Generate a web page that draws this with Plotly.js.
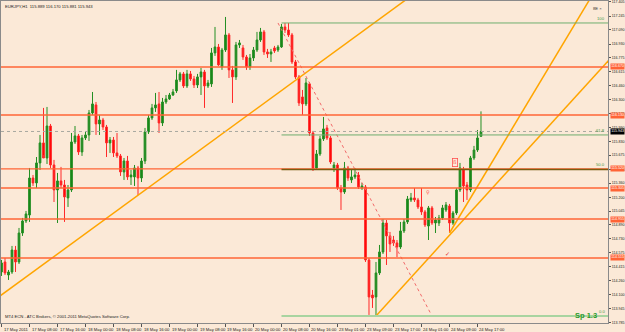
<!DOCTYPE html>
<html><head><meta charset="utf-8">
<script src="https://cdn.plot.ly/plotly-3.0.1.min.js"></script>
<style>html,body{margin:0;padding:0;background:#fbe9d7;}#chart{width:625px;height:332px;}</style>
</head><body><div id="chart"></div>
<script>
// ---- data (EURJPY, H1) ----
const openP = [114.357,114.470,114.323,114.357,114.605,114.470,114.797,114.933,115.000,115.418,
115.362,115.588,115.814,115.644,116.005,115.565,115.283,115.385,115.339,115.193,
115.283,115.825,115.893,115.712,115.870,115.904,116.152,116.243,116.028,116.073,
115.994,115.814,115.847,115.701,115.667,115.486,115.610,115.430,115.430,115.531,
115.418,115.610,115.938,116.096,116.209,116.254,116.039,116.276,116.310,116.355,
116.401,116.525,116.593,116.457,116.593,116.536,116.468,116.559,116.615,116.457,
116.480,116.830,116.897,116.672,116.863,117.033,116.638,116.559,116.920,116.886,
116.784,116.672,116.773,116.863,116.976,117.067,116.841,116.818,116.886,116.863,
116.897,117.123,117.089,117.033,116.728,116.559,116.333,116.254,116.480,115.926,
115.531,115.689,115.859,115.983,115.870,115.531,115.565,115.305,115.260,115.531,
115.396,115.430,115.452,115.305,115.317,114.493,114.097,114.075,114.346,114.583,
114.910,114.764,114.718,114.685,114.639,114.820,114.922,115.170,115.193,115.170,
115.091,115.035,114.876,115.080,114.910,114.910,114.967,115.057,115.102,114.910,
115.023,115.283,115.509,115.339,115.283,115.644,115.734,115.889];
const highP = [114.493,114.515,114.380,114.651,114.651,114.854,114.967,115.046,115.531,115.452,
115.655,115.904,116.209,116.220,116.028,115.622,115.475,115.543,115.396,115.339,
115.926,116.005,115.915,115.904,115.938,116.186,116.389,116.276,116.130,116.096,
116.017,115.881,115.881,115.926,115.689,115.644,115.667,115.509,115.565,115.554,
115.644,115.983,116.130,116.254,116.378,116.389,116.322,116.355,116.378,116.423,
116.638,116.615,116.615,116.638,116.626,116.570,116.593,116.660,116.638,116.525,
116.886,117.123,116.931,116.886,117.236,117.055,116.683,116.954,116.976,116.920,
116.807,116.818,116.897,117.067,117.112,117.089,116.875,116.875,116.909,116.920,
117.157,117.168,117.168,117.055,116.751,116.581,116.412,116.547,116.502,115.949,
115.734,115.893,116.107,116.017,115.893,115.599,115.588,115.339,115.599,115.554,
115.509,115.531,115.486,115.362,115.339,114.515,114.154,114.470,114.662,114.955,
114.944,114.809,114.764,114.718,114.922,114.955,115.215,115.249,115.305,115.193,
115.305,115.057,115.102,115.102,114.978,115.001,115.114,115.147,115.125,115.046,
115.305,115.588,115.543,115.373,115.667,115.780,115.960,116.170];
const lowP = [114.312,114.323,114.267,114.335,114.357,114.447,114.764,114.910,114.922,115.328,
115.305,115.509,115.678,115.576,115.531,115.147,114.910,115.305,114.922,115.091,
115.260,115.802,115.678,115.667,115.847,115.836,116.130,115.904,115.904,115.960,
115.655,115.701,115.655,115.644,115.441,115.396,115.396,115.339,115.328,115.226,
115.373,115.576,115.915,116.073,116.164,115.926,116.005,116.254,116.299,116.344,
116.378,116.502,116.434,116.434,116.514,116.434,116.434,116.355,116.209,116.434,
116.446,116.796,116.683,116.638,116.841,116.547,116.265,116.525,116.886,116.751,
116.638,116.638,116.739,116.841,116.954,116.807,116.773,116.728,116.830,116.841,
116.886,117.055,117.010,116.705,116.536,116.231,116.130,116.231,115.893,115.497,
115.509,115.667,115.836,115.847,115.576,115.486,115.283,115.057,115.238,115.385,
115.362,115.407,115.294,115.283,114.470,113.872,113.951,113.860,114.323,114.560,
114.436,114.583,114.651,114.526,114.617,114.797,114.899,115.147,115.147,115.068,
115.001,114.865,114.718,114.888,114.797,114.876,114.944,115.035,114.797,114.888,
115.001,115.260,115.147,115.170,115.260,115.622,115.712,115.881];
const closeP = [114.459,114.346,114.357,114.605,114.470,114.797,114.933,115.012,115.418,115.362,
115.588,115.814,115.644,116.005,115.565,115.283,115.385,115.339,115.204,115.283,
115.825,115.893,115.712,115.870,115.904,116.152,116.254,116.028,116.073,115.994,
115.814,115.847,115.701,115.667,115.486,115.610,115.430,115.452,115.531,115.418,
115.610,115.938,116.096,116.209,116.243,116.039,116.276,116.310,116.355,116.389,
116.525,116.593,116.457,116.593,116.536,116.468,116.559,116.615,116.457,116.491,
116.830,116.897,116.694,116.863,117.033,116.638,116.559,116.920,116.943,116.784,
116.672,116.773,116.863,116.976,117.067,116.841,116.818,116.841,116.852,116.897,
117.123,117.089,117.033,116.728,116.559,116.265,116.254,116.491,115.926,115.531,
115.689,115.859,115.972,115.870,115.599,115.565,115.305,115.260,115.531,115.418,
115.430,115.452,115.317,115.328,114.493,114.075,114.064,114.346,114.583,114.910,
114.764,114.673,114.685,114.639,114.820,114.922,115.181,115.193,115.170,115.091,
115.035,114.888,115.080,114.910,114.944,114.967,115.080,115.114,114.910,115.023,
115.283,115.531,115.328,115.283,115.644,115.734,115.870,115.943];

const timeTickBars = [0,8,16,24,32,40,48,56,64,72,80,88,96,104,112,120,128,136];
const timeTickText = ["17 May 2011","17 May 08:00","17 May 16:00","18 May 00:00","18 May 08:00","18 May 16:00",
"19 May 00:00","19 May 08:00","19 May 16:00","20 May 00:00","20 May 08:00","20 May 16:00",
"23 May 01:00","23 May 09:00","23 May 17:00","24 May 01:00","24 May 09:00","24 May 17:00"];
const priceTicks = [117.405,117.245,117.090,116.930,116.775,116.615,116.460,116.300,116.145,115.990,115.830,115.675,
115.515,115.360,115.200,115.045,114.890,114.730,114.575,114.415,114.260,114.100,113.945,113.785];
const priceTickText = ["117.405","117.245","117.090","116.930","116.775","116.615","116.460","116.300","116.145","115.990","115.830","115.675",
"115.515","115.360","115.200","115.045","114.890","114.730","114.575","114.415","114.260","114.100","113.945","113.785"];

const hLevels = [116.671,116.129,115.520,115.305,114.955,114.515];
const hLevelText = ["116.670","116.130","115.520","115.305","114.955","114.515"];
const bidPrice = 115.943;
const fibLevels = [117.168,115.904,115.514,113.860];
const fibText = ["100","61.8","50.0","0.0"];
const fibStartBar = 80;
const trendA_x = [-0.5,116], trendA_y = [114.084,117.443];
const trendB_x = [107,174],  trendB_y = [113.860,116.769];
const trendC_x = [128,168],  trendC_y = [114.797,117.43];
const fibDiag_x = [79,123],  fibDiag_y = [117.168,113.860];

const xRange = [-0.143,173.29];
const yRange = [113.781,117.416];

const idx = openP.map((_, i) => i);
const F = "Liberation Sans, Arial, sans-serif";
const levelColor = "#ff6436";
const axFont = 3.6;

const traces = [
  {type:"candlestick", x:idx, open:openP, high:highP, low:lowP, close:closeP,
   increasing:{line:{color:"#238f23",width:1}, fillcolor:"#178317"},
   decreasing:{line:{color:"#ff2a2a",width:1}, fillcolor:"#ff0000"},
   whiskerwidth:0, hoverinfo:"skip", showlegend:false},
  {type:"scatter", mode:"lines", x:trendA_x, y:trendA_y, line:{color:"#ffa500",width:1.5}, hoverinfo:"skip", showlegend:false},
  {type:"scatter", mode:"lines", x:trendB_x, y:trendB_y, line:{color:"#ffa500",width:1.5}, hoverinfo:"skip", showlegend:false},
  {type:"scatter", mode:"lines", x:trendC_x, y:trendC_y, line:{color:"#ffa500",width:1.5}, hoverinfo:"skip", showlegend:false},
  {type:"scatter", mode:"lines", x:fibDiag_x, y:fibDiag_y, line:{color:"#f26a6a",width:1,dash:"dot"}, hoverinfo:"skip", showlegend:false}
];

const shapes = [];
hLevels.forEach(v => shapes.push({type:"line", xref:"paper", x0:0, x1:1, yref:"y", y0:v, y1:v, line:{color:levelColor,width:1.3}}));
shapes.push({type:"line", xref:"paper", x0:0, x1:1, yref:"y", y0:bidPrice, y1:bidPrice, line:{color:"#a8a8a0",width:1,dash:"dot"}});
const fibColors = ["#6fae6f","#6fae6f","#7a5c10","#a8d4a0"];
const fibWidths = [1,1,1.6,2];
fibLevels.forEach((v,k) => shapes.push({type:"line", xref:"x", x0:fibStartBar, x1:xRange[1], yref:"y", y0:v, y1:v, line:{color:fibColors[k],width:fibWidths[k]}}));

const ann = [];
timeTickBars.forEach((b,k) => ann.push({xref:"x", x:b, yref:"paper", y:0, yshift:-2, xanchor:"left", yanchor:"top",
  text:timeTickText[k], showarrow:false, font:{family:F,size:4.2,color:"#222"}}));
hLevels.forEach((v,k) => ann.push({xref:"paper", x:1, xshift:2, xanchor:"left", yref:"y", y:v, yanchor:"middle",
  text:hLevelText[k], showarrow:false, bgcolor:levelColor, borderpad:0.3, font:{family:F,size:axFont,color:"#fff"}}));
ann.push({xref:"paper", x:1, xshift:2, xanchor:"left", yref:"y", y:bidPrice, yanchor:"middle",
  text:"115.943", showarrow:false, bgcolor:"#000", borderpad:0.3, font:{family:F,size:axFont,color:"#fff"}});
fibLevels.forEach((v,k) => ann.push({xref:"paper", x:1, xshift:-1, xanchor:"right", yref:"y", y:v, yanchor:"bottom",
  text:fibText[k], showarrow:false, font:{family:F,size:4.2,color:"#4a9a4a"}}));
ann.push({xref:"paper", x:0, xshift:2, xanchor:"left", yref:"paper", y:1, yshift:-1, yanchor:"top",
  text:"EURJPY,H1  115.889 116.170 115.881 115.943", showarrow:false, font:{family:F,size:4.2,color:"#222"}});
ann.push({xref:"paper", x:0, xshift:2, xanchor:"left", yref:"paper", y:0, yshift:2, yanchor:"bottom",
  text:"MT4 ECN - ATC Brokers, © 2001-2011 MetaQuotes Software Corp.", showarrow:false, font:{family:F,size:4.2,color:"#222"}});
ann.push({xref:"paper", x:1, xshift:-9, xanchor:"right", yref:"paper", y:0, yshift:1, yanchor:"bottom",
  text:"<b>Sp 1.3</b>", showarrow:false, font:{family:F,size:7.5,color:"#2a9a2a"}});
ann.push({xref:"paper", x:1, xshift:-4, xanchor:"right", yref:"paper", y:1, yshift:-3, yanchor:"top",
  text:"8E ×", showarrow:false, font:{family:F,size:4.2,color:"#333"}});
ann.push({xref:"x", x:129.6, yref:"y", y:115.588, text:"ß", showarrow:false, bordercolor:"#ff5050", borderwidth:0.8, borderpad:0.5, font:{family:F,size:5,color:"#ff5050"}});
ann.push({xref:"x", x:121.8, yref:"y", y:115.260, text:"♀", showarrow:false, font:{family:"DejaVu Sans",size:5,color:"#ff5050"}});
ann.push({xref:"x", x:127.3, yref:"y", y:114.57, text:"✓", showarrow:false, font:{family:"DejaVu Sans",size:6,color:"#e03030"}});

const layout = {
  width:625, height:332, margin:{l:1,r:17,t:1,b:9,pad:0},
  paper_bgcolor:"#fbe9d7", plot_bgcolor:"#fbe9d7", showlegend:false, hovermode:false,
  xaxis:{range:xRange, showgrid:false, zeroline:false, showline:true, mirror:true, linecolor:"#8a8a8a", linewidth:1,
    tickvals:timeTickBars, ticktext:timeTickText, showticklabels:false, ticks:"outside", ticklen:3, tickcolor:"#555",
    rangeslider:{visible:false}, fixedrange:true},
  yaxis:{range:yRange, side:"right", showgrid:false, zeroline:false, showline:true, mirror:true, linecolor:"#8a8a8a", linewidth:1,
    tickvals:priceTicks, ticktext:priceTickText, ticks:"outside", ticklen:2, tickcolor:"#555",
    tickfont:{family:F,size:axFont,color:"#222"}, fixedrange:true},
  shapes:shapes, annotations:ann
};
Plotly.newPlot("chart", traces, layout, {staticPlot:true, displayModeBar:false});
</script></body></html>
